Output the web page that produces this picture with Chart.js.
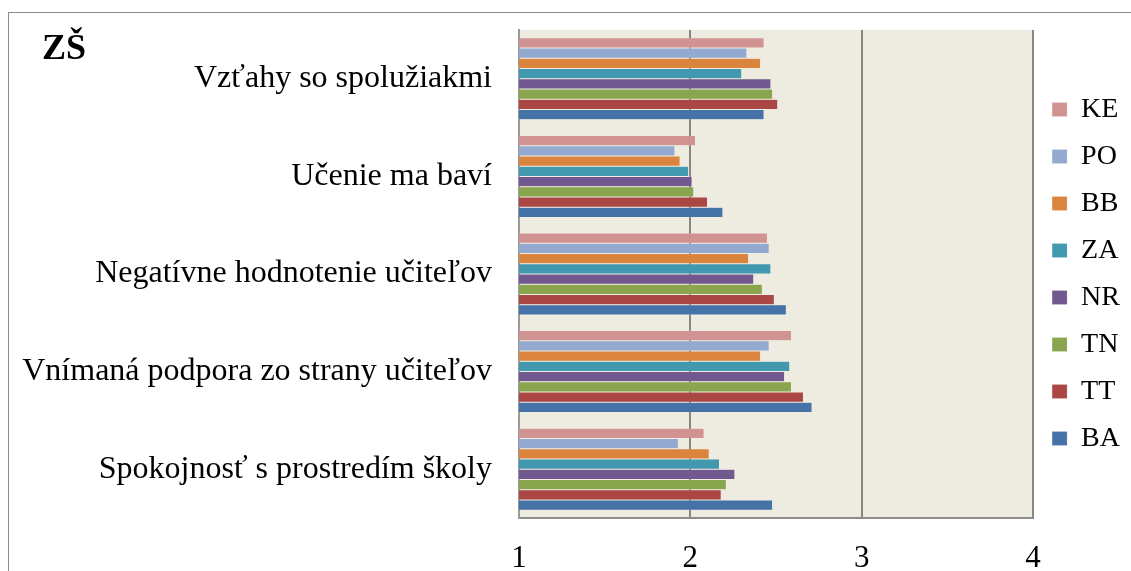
<!DOCTYPE html>
<html>
<head>
<meta charset="utf-8">
<script src="https://cdn.jsdelivr.net/npm/chart.js@4.4.0/dist/chart.umd.min.js"></script>
<style>
  html, body { margin: 0; padding: 0; background: #fff; }
  #wrap { position: relative; width: 1131px; height: 571px; overflow: hidden; }
  #frame { position: absolute; left: 8px; top: 12px; width: 1200px; height: 700px;
           border-left: 1.5px solid #8c8c8c; border-top: 1.5px solid #8c8c8c; }
  #title { position: absolute; left: 42px; top: 26px; font: bold 36px "Liberation Serif", "Times New Roman", serif; color: #000; }
  canvas { position: absolute; left: 0; top: 0; }
</style>
</head>
<body>
<div id="wrap">
  <div id="frame"></div>
  <canvas id="myChart" width="1131" height="571"></canvas>
  <div id="title">ZŠ</div>
</div>
<script>
// categories, top to bottom
var categories = [
  'Vzťahy so spolužiakmi',
  'Učenie ma baví',
  'Negatívne hodnotenie učiteľov',
  'Vnímaná podpora zo strany učiteľov',
  'Spokojnosť s prostredím školy'
]

// regions (legend order, top to bottom)
var KE = [2.43, 2.03, 2.45, 2.59, 2.08]
var PO = [2.33, 1.91, 2.46, 2.46, 1.93]
var BB = [2.41, 1.94, 2.34, 2.41, 2.11]
var ZA = [2.30, 1.99, 2.47, 2.58, 2.17]
var NR = [2.47, 2.01, 2.37, 2.55, 2.26]
var TN = [2.48, 2.02, 2.42, 2.59, 2.21]
var TT = [2.51, 2.10, 2.49, 2.66, 2.18]
var BA = [2.43, 2.19, 2.56, 2.71, 2.48]

var xTicks = [1, 2, 3, 4]

var serif = '"Liberation Serif", "Times New Roman", serif'

// beige plot background
var plotBg = {
  id: 'plotBg',
  beforeDraw: function(chart){
    var a = chart.chartArea
    var ctx = chart.ctx
    ctx.save()
    ctx.fillStyle = '#eeebe0'
    ctx.fillRect(a.left, a.top, a.right - a.left, a.bottom - a.top)
    ctx.restore()
  }
}

function ds(label, data, color){
  return {
    label: label,
    data: data,
    backgroundColor: color,
    borderColor: 'rgba(255,255,255,0.35)',
    borderWidth: 0.5
  }
}

var ctx = document.getElementById('myChart').getContext('2d')

var chart = new Chart(ctx, {
  type: 'bar',
  data: {
    labels: categories,
    datasets: [
      ds('KE', KE, '#d19392'),
      ds('PO', PO, '#93a9cf'),
      ds('BB', BB, '#db843d'),
      ds('ZA', ZA, '#4198af'),
      ds('NR', NR, '#71588f'),
      ds('TN', TN, '#89a54e'),
      ds('TT', TT, '#aa4643'),
      ds('BA', BA, '#4572a7')
    ]
  },
  options: {
    indexAxis: 'y',
    responsive: false,
    animation: false,
    layout: { padding: { top: 30, right: 1, left: 0, bottom: 0 } },
    datasets: { bar: { categoryPercentage: 0.84, barPercentage: 1 } },
    scales: {
      x: {
        min: 1,
        max: 4,
        afterBuildTicks: function(scale){
          scale.ticks = xTicks.map(function(v){ return { value: v } })
        },
        afterFit: function(scale){
          scale.height = 53
          scale.paddingLeft = 0
          scale.paddingRight = 0
        },
        grid: { color: '#868686', lineWidth: 2, drawTicks: false },
        border: { color: '#8c8c8c', width: 2 },
        ticks: { color: '#000', padding: 22, font: { family: serif, size: 31 } }
      },
      y: {
        afterFit: function(scale){
          scale.width = 519
          scale.paddingTop = 0
          scale.paddingBottom = 0
        },
        grid: { display: false, drawTicks: false },
        border: { color: '#9a9a9a', width: 2 },
        ticks: { color: '#000', padding: 27, font: { family: serif, size: 32 } }
      }
    },
    plugins: {
      legend: {
        position: 'right',
        fullSize: false,
        labels: {
          color: '#000',
          boxWidth: 15,
          boxHeight: 14,
          padding: 19,
          font: { family: serif, size: 28 }
        }
      },
      tooltip: { enabled: false }
    }
  },
  plugins: [plotBg]
})
</script>
</body>
</html>
